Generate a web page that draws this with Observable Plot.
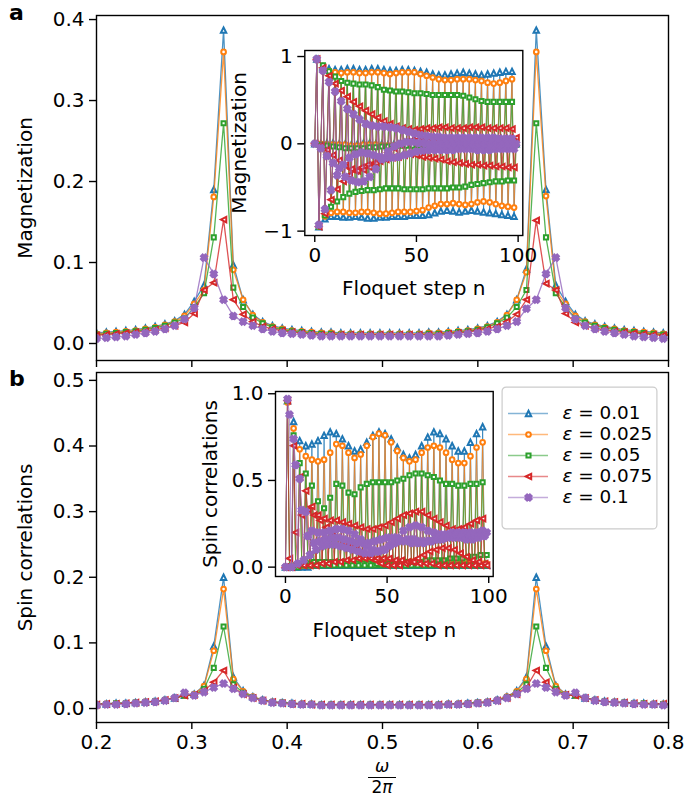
<!DOCTYPE html>
<html>
<head>
<meta charset="utf-8">
<script src="https://cdn.jsdelivr.net/npm/d3@7"></script>
<script src="https://cdn.jsdelivr.net/npm/@observablehq/plot@0.6"></script>
<style>
  body { margin: 0; background: #fff; }
  #fig { position: relative; width: 684px; height: 806px; font-family: "DejaVu Sans", sans-serif; color: #000; }
  #fig > * { position: absolute; }
  .panel { font-weight: bold; font-size: 22px; line-height: 22px; }
  .frac { text-align: center; font-size: 17px; line-height: 17px; width: 40px; }
  .frac .bar { border-top: 1.3px solid #000; margin: 2px 6px 1px 6px; }
</style>
</head>
<body>
<div id="fig"></div>
<script>
// ---------- frequency grid (omega / 2pi) ----------
const omega = [0.2000,0.2103,0.2205,0.2308,0.2410,0.2513,0.2615,0.2718,0.2820,0.2923,0.3025,0.3128,0.3230,0.3333,0.3435,0.3538,0.3640,0.3743,0.3845,0.3948,0.4050,0.4153,0.4255,0.4358,0.4460,0.4563,0.4665,0.4768,0.4870,0.4973,0.5075,0.5178,0.5280,0.5383,0.5485,0.5588,0.5690,0.5793,0.5895,0.5998,0.6100,0.6203,0.6305,0.6408,0.6510,0.6613,0.6715,0.6818,0.6920,0.7023,0.7125,0.7228,0.7330,0.7433,0.7535,0.7638,0.7740,0.7843,0.7945,0.8048];

// ---------- magnetization spectra ----------
const specMag_e001 = [0.013,0.014,0.015,0.016,0.017,0.019,0.021,0.024,0.028,0.036,0.052,0.072,0.190,0.387,0.097,0.054,0.036,0.027,0.022,0.019,0.017,0.016,0.015,0.014,0.014,0.013,0.013,0.013,0.013,0.013,0.013,0.013,0.013,0.013,0.014,0.014,0.015,0.016,0.017,0.019,0.022,0.027,0.036,0.054,0.092,0.387,0.190,0.072,0.052,0.036,0.028,0.024,0.021,0.019,0.017,0.016,0.015,0.014,0.013,0.013];
const specMag_e0025 = [0.012,0.013,0.014,0.015,0.016,0.018,0.020,0.023,0.027,0.034,0.049,0.066,0.181,0.360,0.091,0.054,0.035,0.026,0.021,0.018,0.016,0.015,0.014,0.013,0.013,0.012,0.012,0.012,0.012,0.012,0.012,0.012,0.012,0.012,0.013,0.013,0.014,0.015,0.016,0.018,0.021,0.026,0.035,0.054,0.088,0.360,0.182,0.066,0.049,0.034,0.027,0.023,0.020,0.018,0.016,0.015,0.014,0.013,0.012,0.012];
const specMag_e005 = [0.011,0.012,0.013,0.014,0.015,0.017,0.019,0.022,0.026,0.031,0.045,0.062,0.131,0.272,0.069,0.045,0.032,0.025,0.020,0.017,0.015,0.014,0.013,0.012,0.012,0.011,0.011,0.011,0.011,0.011,0.011,0.011,0.011,0.011,0.012,0.012,0.013,0.014,0.015,0.017,0.020,0.025,0.032,0.045,0.066,0.272,0.131,0.062,0.045,0.031,0.026,0.022,0.019,0.017,0.015,0.014,0.013,0.012,0.011,0.011];
const specMag_e0075 = [0.010,0.011,0.012,0.013,0.014,0.015,0.017,0.019,0.022,0.026,0.037,0.066,0.075,0.153,0.054,0.036,0.027,0.021,0.018,0.016,0.014,0.013,0.012,0.011,0.011,0.011,0.011,0.011,0.011,0.011,0.011,0.011,0.011,0.011,0.011,0.011,0.012,0.013,0.014,0.016,0.018,0.021,0.027,0.036,0.054,0.152,0.074,0.066,0.037,0.026,0.022,0.019,0.017,0.015,0.014,0.013,0.012,0.011,0.010,0.010];
const specMag_e01 = [0.006,0.007,0.008,0.009,0.011,0.013,0.015,0.018,0.022,0.030,0.044,0.106,0.086,0.054,0.034,0.027,0.022,0.018,0.015,0.013,0.012,0.011,0.010,0.009,0.009,0.009,0.009,0.009,0.009,0.009,0.009,0.009,0.009,0.009,0.009,0.009,0.010,0.011,0.012,0.013,0.015,0.018,0.022,0.027,0.043,0.054,0.086,0.106,0.044,0.030,0.022,0.018,0.015,0.013,0.011,0.009,0.008,0.007,0.006,0.006];

// ---------- spin-correlation spectra ----------
const specCorr_e001 = [0.007,0.007,0.008,0.008,0.009,0.010,0.011,0.013,0.016,0.020,0.022,0.035,0.095,0.200,0.048,0.027,0.018,0.013,0.010,0.009,0.008,0.007,0.007,0.006,0.006,0.006,0.006,0.006,0.006,0.006,0.006,0.006,0.006,0.006,0.006,0.006,0.007,0.007,0.008,0.009,0.010,0.013,0.018,0.027,0.048,0.200,0.095,0.035,0.022,0.020,0.016,0.013,0.011,0.010,0.009,0.008,0.008,0.007,0.007,0.007];
const specCorr_e0025 = [0.007,0.007,0.008,0.008,0.009,0.010,0.011,0.013,0.016,0.020,0.022,0.034,0.088,0.182,0.045,0.026,0.018,0.013,0.010,0.009,0.008,0.007,0.007,0.006,0.006,0.006,0.006,0.006,0.006,0.006,0.006,0.006,0.006,0.006,0.006,0.006,0.007,0.007,0.008,0.009,0.010,0.013,0.018,0.026,0.045,0.182,0.088,0.034,0.022,0.020,0.016,0.013,0.011,0.010,0.009,0.008,0.008,0.007,0.007,0.007];
const specCorr_e005 = [0.007,0.007,0.008,0.008,0.009,0.010,0.011,0.013,0.016,0.020,0.021,0.030,0.062,0.125,0.037,0.024,0.017,0.012,0.010,0.009,0.008,0.007,0.007,0.006,0.006,0.006,0.006,0.006,0.006,0.006,0.006,0.006,0.006,0.006,0.006,0.006,0.007,0.007,0.008,0.009,0.010,0.012,0.017,0.024,0.037,0.125,0.062,0.030,0.021,0.020,0.016,0.013,0.011,0.010,0.009,0.008,0.008,0.007,0.007,0.007];
const specCorr_e0075 = [0.006,0.007,0.007,0.008,0.009,0.010,0.011,0.013,0.016,0.020,0.021,0.027,0.040,0.058,0.032,0.022,0.016,0.012,0.010,0.008,0.007,0.007,0.006,0.006,0.006,0.006,0.006,0.006,0.006,0.006,0.006,0.006,0.006,0.006,0.006,0.006,0.006,0.007,0.007,0.008,0.010,0.012,0.016,0.022,0.032,0.058,0.040,0.027,0.021,0.020,0.016,0.013,0.011,0.010,0.009,0.008,0.007,0.007,0.007,0.006];
const specCorr_e01 = [0.005,0.006,0.006,0.007,0.008,0.009,0.010,0.012,0.016,0.024,0.020,0.025,0.032,0.038,0.030,0.022,0.016,0.012,0.009,0.008,0.007,0.006,0.006,0.005,0.005,0.005,0.005,0.005,0.005,0.005,0.005,0.005,0.005,0.005,0.005,0.005,0.006,0.006,0.007,0.008,0.009,0.012,0.016,0.022,0.030,0.038,0.032,0.025,0.020,0.024,0.016,0.012,0.010,0.009,0.008,0.007,0.006,0.006,0.005,0.005];

// ---------- magnetization vs Floquet step, three sub-lattices of the period-3 response ----------
// "mid": steps 0,3,6,...  "up": steps 1,4,7,...  "low": steps 2,5,8,...
const magMid_e001 = [0,0,0.01,0.01,0,0,-0.01,0,0.01,0.01,0,0,-0.01,0,0,0.01,0.01,0,0,-0.01,0,0,0.01,0,0,-0.01,0,0,0.01,0,0,0,0,0];
const magUp_e001 = [0.97,0.88,0.86,0.85,0.85,0.86,0.86,0.85,0.85,0.86,0.86,0.85,0.84,0.84,0.85,0.85,0.84,0.83,0.82,0.80,0.79,0.79,0.80,0.81,0.82,0.81,0.80,0.79,0.80,0.81,0.82,0.83,0.83];
const magLow_e001 = [-0.95,-0.86,-0.83,-0.83,-0.84,-0.84,-0.83,-0.84,-0.85,-0.85,-0.84,-0.84,-0.83,-0.83,-0.83,-0.82,-0.82,-0.82,-0.81,-0.79,-0.77,-0.76,-0.77,-0.78,-0.77,-0.76,-0.77,-0.78,-0.79,-0.80,-0.81,-0.82,-0.83];

const magMid_e0025 = [0,0,-0.01,-0.01,-0.01,-0.01,-0.02,-0.02,-0.01,-0.01,-0.01,-0.02,-0.02,-0.02,-0.01,-0.01,-0.01,-0.01,-0.02,-0.02,-0.02,-0.01,-0.01,-0.01,-0.01,-0.02,-0.02,-0.02,-0.01,-0.01,-0.01,-0.01,-0.01,-0.01];
const magUp_e0025 = [0.97,0.86,0.83,0.82,0.81,0.82,0.82,0.81,0.81,0.82,0.82,0.81,0.80,0.81,0.82,0.82,0.82,0.80,0.78,0.76,0.74,0.73,0.73,0.74,0.74,0.74,0.73,0.72,0.70,0.69,0.70,0.72,0.74];
const magLow_e0025 = [-0.95,-0.83,-0.79,-0.78,-0.78,-0.79,-0.79,-0.78,-0.78,-0.79,-0.80,-0.80,-0.79,-0.78,-0.78,-0.78,-0.77,-0.76,-0.73,-0.71,-0.69,-0.69,-0.68,-0.69,-0.70,-0.69,-0.67,-0.66,-0.67,-0.69,-0.71,-0.72,-0.73];

const magMid_e005 = [0,-0.01,-0.02,-0.03,-0.04,-0.05,-0.05,-0.05,-0.05,-0.04,-0.04,-0.03,-0.03,-0.03,-0.02,-0.02,-0.02,-0.02,-0.02,-0.02,-0.02,-0.01,-0.01,-0.01,-0.01,-0.01,-0.01,-0.01,-0.01,-0.01,-0.01,-0.01,-0.01,-0.01];
const magUp_e005 = [0.97,0.90,0.83,0.77,0.72,0.70,0.69,0.68,0.68,0.67,0.65,0.62,0.61,0.60,0.60,0.59,0.58,0.58,0.57,0.56,0.56,0.56,0.56,0.56,0.55,0.53,0.51,0.49,0.48,0.48,0.48,0.48,0.48];
const magLow_e005 = [-0.95,-0.82,-0.72,-0.66,-0.61,-0.57,-0.55,-0.54,-0.53,-0.53,-0.52,-0.51,-0.51,-0.51,-0.52,-0.52,-0.52,-0.52,-0.51,-0.51,-0.51,-0.51,-0.50,-0.50,-0.49,-0.47,-0.46,-0.45,-0.44,-0.43,-0.43,-0.42,-0.42];

const magMid_e0075 = [0,-0.02,-0.07,-0.13,-0.19,-0.25,-0.29,-0.31,-0.30,-0.27,-0.22,-0.16,-0.10,-0.05,-0.01,0.02,0.04,0.05,0.06,0.06,0.06,0.06,0.06,0.06,0.06,0.06,0.06,0.06,0.06,0.06,0.06,0.06,0.07,0.07];
const magUp_e0075 = [0.97,0.87,0.78,0.69,0.61,0.54,0.48,0.43,0.38,0.34,0.30,0.26,0.23,0.20,0.18,0.17,0.16,0.17,0.18,0.18,0.19,0.19,0.18,0.18,0.18,0.19,0.19,0.19,0.18,0.18,0.18,0.18,0.17];
const magLow_e0075 = [-0.95,-0.80,-0.64,-0.52,-0.43,-0.36,-0.31,-0.27,-0.24,-0.22,-0.20,-0.18,-0.16,-0.15,-0.13,-0.12,-0.13,-0.15,-0.16,-0.17,-0.18,-0.20,-0.21,-0.22,-0.23,-0.24,-0.24,-0.25,-0.25,-0.26,-0.26,-0.27,-0.27];

const magMid_e01 = [0,-0.05,-0.14,-0.22,-0.28,-0.38,-0.42,-0.44,-0.43,-0.38,-0.29,-0.18,-0.09,-0.03,0,0.02,0.02,0.01,0.01,0,0,0,0,0,0,0,0,0,0,0,0,0,0,0];
const magUp_e01 = [0.97,0.84,0.71,0.60,0.49,0.40,0.34,0.28,0.23,0.21,0.20,0.20,0.19,0.18,0.16,0.14,0.12,0.10,0.09,0.08,0.08,0.07,0.07,0.07,0.07,0.07,0.07,0.07,0.07,0.07,0.06,0.06,0.06];
const magLow_e01 = [-0.93,-0.75,-0.53,-0.36,-0.24,-0.16,-0.12,-0.10,-0.11,-0.13,-0.15,-0.16,-0.16,-0.15,-0.13,-0.11,-0.09,-0.08,-0.07,-0.07,-0.07,-0.07,-0.07,-0.06,-0.06,-0.06,-0.07,-0.07,-0.07,-0.06,-0.06,-0.06,-0.06];

// ---------- spin correlations vs Floquet step ----------
const corrMid_e001 = [0,0,0,0.01,0.01,0.01,0.01,0.01,0.01,0.01,0.01,0.01,0.01,0.01,0.01,0.01,0.01,0.01,0.01,0.01,0.01,0.01,0.01,0.01,0.01,0.01,0.01,0.01,0.01,0.01,0.01,0.01,0.01,0.01];
const corrUp_e001 = [0.96,0.84,0.73,0.70,0.71,0.73,0.76,0.78,0.77,0.74,0.70,0.67,0.68,0.72,0.76,0.78,0.77,0.74,0.69,0.65,0.63,0.65,0.70,0.75,0.78,0.77,0.74,0.70,0.67,0.67,0.72,0.77,0.81];
const corrLow_e001 = [0,0,0,0,0.01,0.01,0.01,0.01,0.01,0.01,0.01,0.01,0.01,0.01,0.01,0.01,0.01,0.01,0.01,0.01,0.01,0.01,0.01,0.01,0.01,0.01,0.01,0.01,0.01,0.01,0.01,0.01,0.01];

const corrMid_e0025 = [0,0,0.01,0.01,0.01,0.02,0.02,0.02,0.02,0.02,0.02,0.02,0.02,0.02,0.02,0.02,0.02,0.02,0.02,0.02,0.02,0.03,0.03,0.03,0.03,0.03,0.03,0.03,0.03,0.02,0.02,0.02,0.02,0.02];
const corrUp_e0025 = [0.95,0.80,0.68,0.64,0.62,0.61,0.62,0.66,0.71,0.70,0.66,0.63,0.65,0.70,0.75,0.77,0.76,0.72,0.67,0.63,0.61,0.62,0.66,0.69,0.70,0.69,0.66,0.62,0.60,0.60,0.64,0.69,0.72];
const corrLow_e0025 = [0,0.01,0.01,0.02,0.02,0.02,0.02,0.02,0.02,0.02,0.02,0.02,0.02,0.02,0.02,0.02,0.02,0.02,0.02,0.03,0.03,0.03,0.03,0.03,0.03,0.03,0.03,0.03,0.03,0.03,0.02,0.02,0.02];

const corrMid_e005 = [0,0,0,0.01,0.01,0.01,0.01,0.01,0.01,0.01,0.01,0.01,0.01,0.01,0.01,0.02,0.02,0.02,0.02,0.03,0.03,0.03,0.03,0.04,0.04,0.04,0.04,0.05,0.05,0.05,0.06,0.06,0.07,0.07];
const corrUp_e005 = [0.96,0.76,0.60,0.54,0.47,0.38,0.34,0.40,0.48,0.47,0.43,0.42,0.46,0.48,0.49,0.49,0.49,0.49,0.50,0.51,0.53,0.54,0.54,0.53,0.52,0.50,0.48,0.48,0.47,0.47,0.48,0.48,0.49];
const corrLow_e005 = [0,0.01,0.02,0.02,0.03,0.03,0.03,0.03,0.03,0.02,0.02,0.02,0.02,0.02,0.01,0.01,0.01,0.01,0.01,0.01,0.01,0.01,0.01,0.01,0.01,0.01,0.01,0.01,0.01,0.01,0.01,0.01,0.01];

const corrMid_e0075 = [0,0,0.01,0.01,0.01,0.01,0.02,0.02,0.03,0.03,0.04,0.04,0.05,0.05,0.05,0.05,0.05,0.05,0.04,0.04,0.03,0.03,0.02,0.02,0.02,0.01,0.01,0.01,0.01,0.01,0.01,0.01,0.01,0.01];
const corrUp_e0075 = [0.96,0.70,0.52,0.44,0.35,0.30,0.28,0.27,0.27,0.26,0.25,0.24,0.23,0.22,0.22,0.23,0.24,0.26,0.28,0.30,0.31,0.32,0.32,0.30,0.28,0.26,0.24,0.22,0.22,0.23,0.25,0.27,0.28];
const corrLow_e0075 = [0.05,0.20,0.30,0.33,0.30,0.27,0.23,0.20,0.17,0.14,0.12,0.10,0.08,0.06,0.04,0.02,0.01,0.01,0.01,0.02,0.03,0.05,0.07,0.09,0.10,0.11,0.11,0.10,0.08,0.06,0.04,0.03,0.02];

const corrMid_e01 = [0,0,0.02,0.04,0.07,0.10,0.12,0.13,0.13,0.12,0.11,0.10,0.09,0.08,0.08,0.09,0.10,0.12,0.14,0.15,0.16,0.16,0.15,0.15,0.15,0.16,0.17,0.18,0.19,0.19,0.19,0.19,0.20,0.20];
const corrUp_e01 = [0.97,0.74,0.51,0.32,0.21,0.20,0.20,0.21,0.22,0.22,0.21,0.19,0.16,0.12,0.10,0.09,0.10,0.13,0.17,0.21,0.23,0.24,0.23,0.21,0.20,0.19,0.19,0.20,0.20,0.20,0.20,0.20,0.21];
const corrLow_e01 = [0.88,0.59,0.33,0.18,0.14,0.15,0.16,0.17,0.17,0.16,0.15,0.14,0.14,0.14,0.15,0.16,0.17,0.17,0.16,0.15,0.14,0.14,0.14,0.15,0.16,0.16,0.17,0.17,0.17,0.16,0.16,0.17,0.18];

// ---------- labels and ticks ----------
const epsLabels = ["0.01", "0.025", "0.05", "0.075", "0.1"];
const omegaTicks = [0.2, 0.3, 0.4, 0.5, 0.6, 0.7, 0.8];
const magSpecTicks = [0, 0.1, 0.2, 0.3, 0.4];
const corrSpecTicks = [0, 0.1, 0.2, 0.3, 0.4, 0.5];
const stepTicks = [0, 50, 100];
const magStepTicks = [-1, 0, 1];
const corrStepTicks = [0, 0.5, 1];

// ---------- styling ----------
const colors = ["#1f77b4", "#ff7f0e", "#2ca02c", "#d62728", "#9467bd"];
const rad = s => Math.sqrt(s / Math.PI);
const symTriUp = { draw(c, s) { const r = rad(s); c.moveTo(0, -r); c.lineTo(r, r); c.lineTo(-r, r); c.closePath(); } };
const symTriLeft = { draw(c, s) { const r = rad(s); c.moveTo(-r, 0); c.lineTo(r, -r); c.lineTo(r, r); c.closePath(); } };
const symSquare = { draw(c, s) { const r = rad(s); c.rect(-r, -r, 2 * r, 2 * r); } };
const symCircle = { draw(c, s) { const r = rad(s); c.moveTo(r, 0); c.arc(0, 0, r, 0, 2 * Math.PI); } };
const symX = { draw(c, s) {
  const r = rad(s), a = 0.38 * r, k = Math.SQRT1_2;
  const pts = [[a,-r],[a,-a],[r,-a],[r,a],[a,a],[a,r],[-a,r],[-a,a],[-r,a],[-r,-a],[-a,-a],[-a,-r]];
  pts.forEach(([x, y], i) => { const px = (x - y) * k, py = (x + y) * k; i ? c.lineTo(px, py) : c.moveTo(px, py); });
  c.closePath();
} };
const markers = [
  { symbol: symTriUp, r: 2.7, fill: "white" },
  { symbol: symCircle, r: 2.35, fill: "white" },
  { symbol: symSquare, r: 2.05, fill: "white" },
  { symbol: symTriLeft, r: 2.7, fill: "white" },
  { symbol: symX, r: 3.2, fill: colors[4] }
];
const markerStroke = 2;
const baseStyle = { background: "transparent", fontFamily: "DejaVu Sans", fontSize: "20px", color: "black", overflow: "visible" };
const minusFmt = d => (d < 0 ? "\u2212" + Math.abs(d) : String(d));

// ---------- data tables ----------
const spectrum = vals => omega.map((x, i) => ({ x, y: vals[i] }));
const steps = (mid, up, low) => {
  const out = [];
  mid.forEach((v, j) => {
    out.push({ x: 3 * j, y: v });
    if (j < up.length) out.push({ x: 3 * j + 1, y: up[j] });
    if (j < low.length) out.push({ x: 3 * j + 2, y: low[j] });
  });
  return out;
};
const magSpec = [specMag_e001, specMag_e0025, specMag_e005, specMag_e0075, specMag_e01].map(spectrum);
const corrSpec = [specCorr_e001, specCorr_e0025, specCorr_e005, specCorr_e0075, specCorr_e01].map(spectrum);
const magSteps = [
  steps(magMid_e001, magUp_e001, magLow_e001),
  steps(magMid_e0025, magUp_e0025, magLow_e0025),
  steps(magMid_e005, magUp_e005, magLow_e005),
  steps(magMid_e0075, magUp_e0075, magLow_e0075),
  steps(magMid_e01, magUp_e01, magLow_e01)
];
const corrSteps = [
  steps(corrMid_e001, corrUp_e001, corrLow_e001),
  steps(corrMid_e0025, corrUp_e0025, corrLow_e0025),
  steps(corrMid_e005, corrUp_e005, corrLow_e005),
  steps(corrMid_e0075, corrUp_e0075, corrLow_e0075),
  steps(corrMid_e01, corrUp_e01, corrLow_e01)
];

function seriesMarks(sets, lw, lo) {
  return sets.flatMap((d, i) => [
    Plot.line(d, { x: "x", y: "y", stroke: colors[i], strokeWidth: lw, strokeOpacity: lo, clip: true }),
    Plot.dot(d, { x: "x", y: "y", symbol: markers[i].symbol, r: markers[i].r, stroke: colors[i], strokeWidth: markerStroke, fill: markers[i].fill, clip: true })
  ]);
}
const yLabel = (text, dx) => Plot.text([text], { frameAnchor: "left", textAnchor: "middle", lineAnchor: "middle", rotate: -90, dx, fontSize: 20 });
const xLabel = (text, dy) => Plot.text([text], { frameAnchor: "bottom", textAnchor: "middle", lineAnchor: "middle", dy, fontSize: 20 });

const fig = document.getElementById("fig");
function place(el, left, top) { el.style.left = left + "px"; el.style.top = top + "px"; el.style.position = "absolute"; fig.appendChild(el); return el; }

// ---------- panel a: magnetization spectrum ----------
place(Plot.plot({
  width: 684, height: 365, marginLeft: 96, marginRight: 16, marginTop: 15, marginBottom: 5,
  style: baseStyle,
  x: { domain: [0.2, 0.8] },
  y: { domain: [-0.021, 0.405] },
  marks: [
    ...seriesMarks(magSpec, 1.3, 0.8),
    Plot.axisY({ ticks: magSpecTicks, tickFormat: d3.format(".1f"), tickSize: 7, tickPadding: 5, strokeWidth: 1.4, label: null }),
    Plot.axisX({ ticks: omegaTicks, tickFormat: () => "", tickSize: 7, strokeWidth: 1.4, label: null }),
    Plot.frame({ stroke: "black", strokeWidth: 1.4 }),
    yLabel("Magnetization", -71)
  ]
}), 0, 0);

// ---------- panel b: spin-correlation spectrum ----------
place(Plot.plot({
  width: 684, height: 441, marginLeft: 96, marginRight: 16, marginTop: 7, marginBottom: 84,
  style: baseStyle,
  x: { domain: [0.2, 0.8] },
  y: { domain: [-0.0213, 0.512] },
  marks: [
    ...seriesMarks(corrSpec, 1.3, 0.8),
    Plot.axisY({ ticks: corrSpecTicks, tickFormat: d3.format(".1f"), tickSize: 7, tickPadding: 5, strokeWidth: 1.4, label: null }),
    Plot.axisX({ ticks: omegaTicks, tickFormat: d3.format(".1f"), tickSize: 7, tickPadding: 5, strokeWidth: 1.4, label: null }),
    Plot.frame({ stroke: "black", strokeWidth: 1.4 }),
    yLabel("Spin correlations", -71)
  ]
}), 0, 365);

// ---------- inset a: magnetization vs Floquet step ----------
place(Plot.plot({
  width: 300, height: 260, marginLeft: 74.3, marginRight: 7.7, marginTop: 10, marginBottom: 65,
  style: baseStyle,
  x: { domain: [-4.9, 102.3] },
  y: { domain: [-1.05, 1.069] },
  marks: [
    Plot.frame({ fill: "white" }),
    ...seriesMarks(magSteps, 1, 0.7),
    Plot.axisY({ ticks: magStepTicks, tickFormat: minusFmt, tickSize: 7, tickPadding: 5, strokeWidth: 1.4, label: null }),
    Plot.axisX({ ticks: stepTicks, tickFormat: d => String(d), tickSize: 7, tickPadding: 5, strokeWidth: 1.4, label: null }),
    Plot.frame({ stroke: "black", strokeWidth: 1.4 }),
    yLabel("Magnetization", -65),
    xLabel("Floquet step n", 53)
  ]
}), 230, 40);

// ---------- inset b: spin correlations vs Floquet step ----------
place(Plot.plot({
  width: 305, height: 262, marginLeft: 80, marginRight: 7.3, marginTop: 8, marginBottom: 69,
  style: baseStyle,
  x: { domain: [-4.9, 102.2] },
  y: { domain: [-0.054, 1.013] },
  marks: [
    Plot.frame({ fill: "white" }),
    ...seriesMarks(corrSteps, 1, 0.7),
    Plot.axisY({ ticks: corrStepTicks, tickFormat: d3.format(".1f"), tickSize: 7, tickPadding: 5, strokeWidth: 1.4, label: null }),
    Plot.axisX({ ticks: stepTicks, tickFormat: d => String(d), tickSize: 7, tickPadding: 5, strokeWidth: 1.4, label: null }),
    Plot.frame({ stroke: "black", strokeWidth: 1.4 }),
    yLabel("Spin correlations", -65),
    xLabel("Floquet step n", 54)
  ]
}), 195, 383);

// ---------- legend ----------
const legendRows = epsLabels.map((e, i) => ({ key: e, label: "ε = " + e, i }));
const legend = Plot.plot({
  width: 156, height: 143, margin: 0,
  style: baseStyle,
  x: { domain: [0, 1], range: [7, 47], axis: null },
  y: { type: "point", domain: epsLabels, range: [16, 122], axis: null },
  marks: [
    Plot.frame({ stroke: "#cccccc", strokeWidth: 1.2, fill: "white", fillOpacity: 0.85, rx: 4, inset: 0.6 }),
    ...legendRows.flatMap(row => [
      Plot.ruleY([row], { y: "key", x1: 0, x2: 1, stroke: colors[row.i], strokeWidth: 1.4, strokeOpacity: 0.55 }),
      Plot.dot([row], { x: 0.5, y: "key", symbol: markers[row.i].symbol, r: markers[row.i].r, stroke: colors[row.i], strokeWidth: markerStroke, fill: markers[row.i].fill }),
      Plot.text([row], { x: 1.35, y: "key", text: "label", textAnchor: "start", fontSize: 18.4 })
    ])
  ]
});
// set the epsilon symbol in italic, as in math typesetting
d3.select(legend).selectAll("text").each(function () {
  const t = this.textContent;
  if (t.startsWith("ε")) {
    this.textContent = "";
    const s1 = document.createElementNS("http://www.w3.org/2000/svg", "tspan");
    s1.setAttribute("font-style", "italic"); s1.textContent = "ε";
    const s2 = document.createElementNS("http://www.w3.org/2000/svg", "tspan");
    s2.textContent = t.slice(1);
    this.appendChild(s1); this.appendChild(s2);
  }
});
place(legend, 501, 386);

// ---------- x-axis label (fraction) and panel letters ----------
const xlab = document.createElement("div");
xlab.className = "frac";
xlab.innerHTML = '<div><i>ω</i></div><div class="bar"></div><div>2<i>π</i></div>';
place(xlab, 362, 758);

const la = document.createElement("div"); la.className = "panel"; la.textContent = "a"; place(la, 9, 2);
const lb = document.createElement("div"); lb.className = "panel"; lb.textContent = "b"; place(lb, 9, 368);
</script>
</body>
</html>
